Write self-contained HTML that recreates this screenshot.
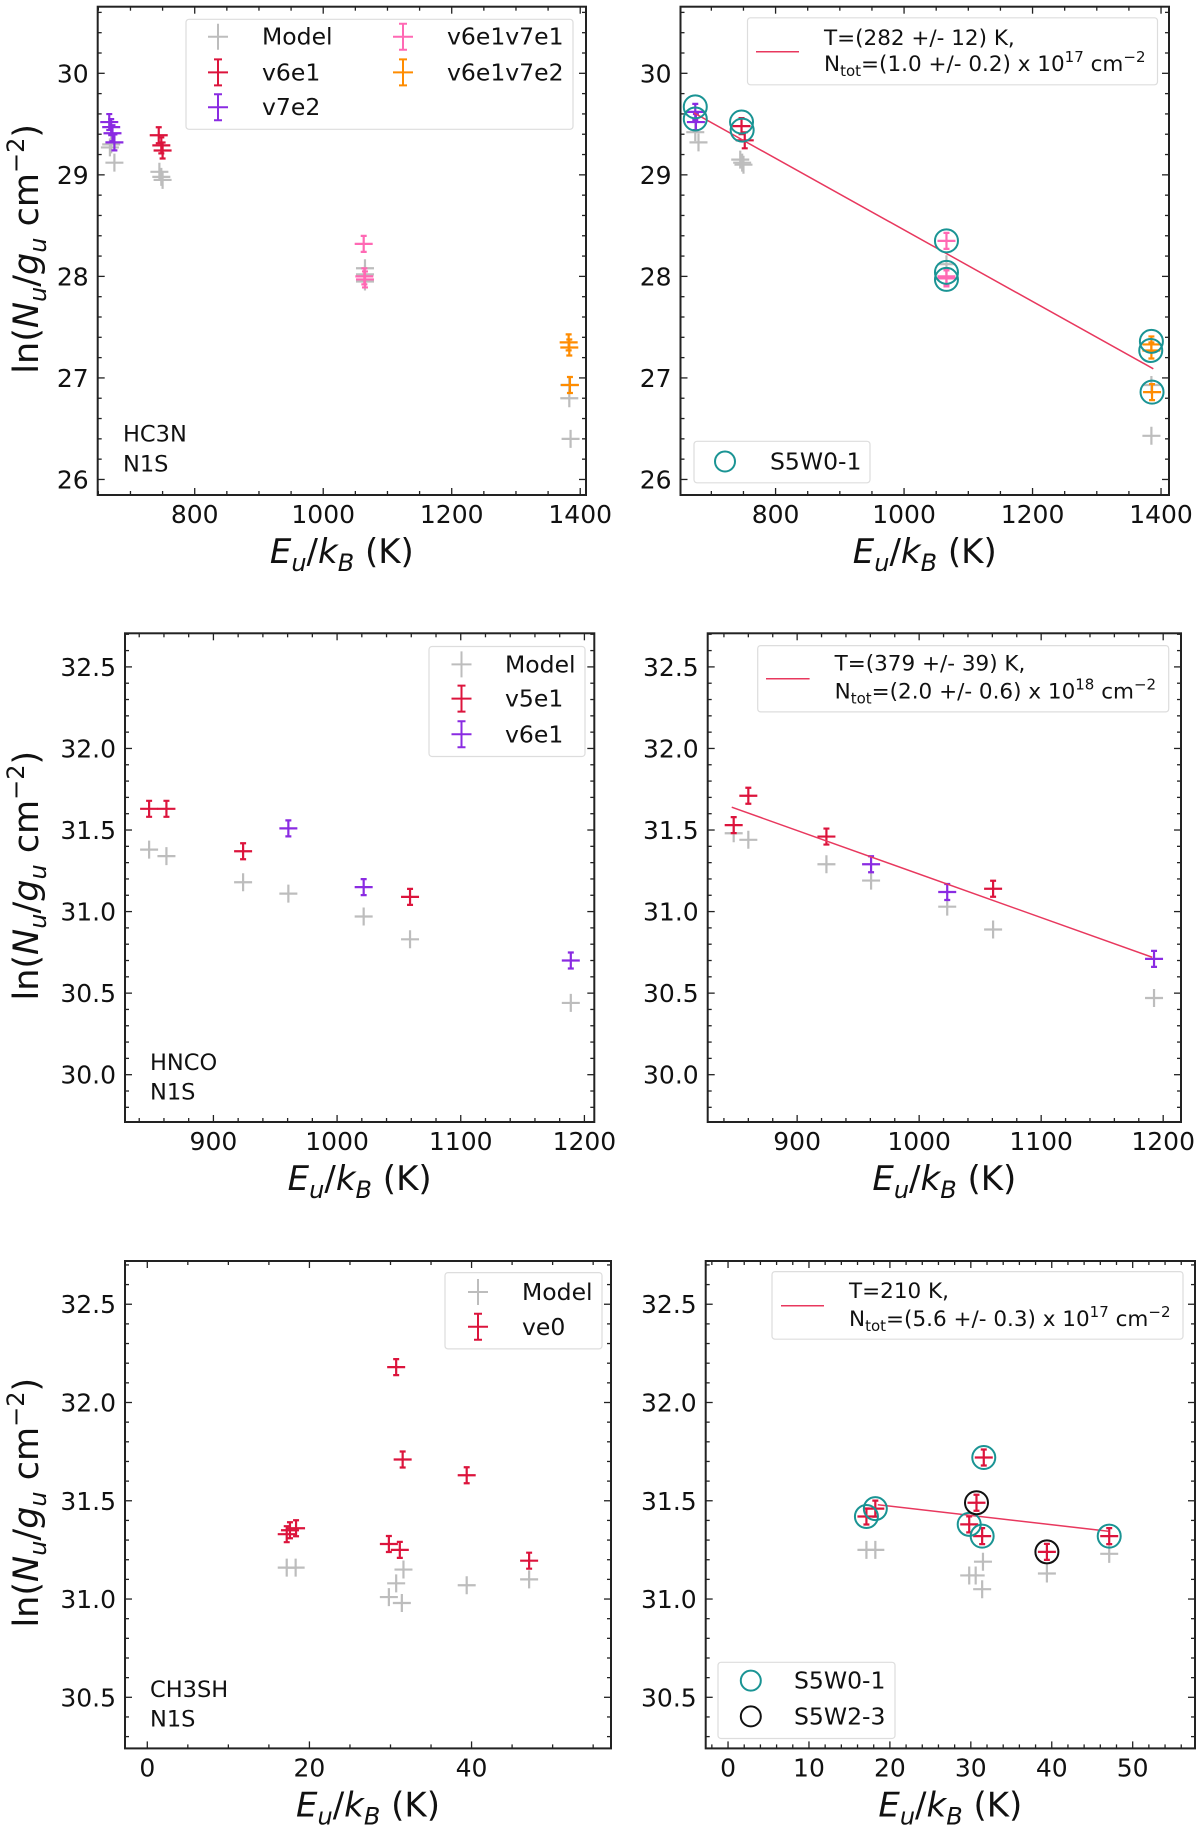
<!DOCTYPE html>
<html><head><meta charset="utf-8"><style>
html,body{margin:0;padding:0;background:#fff;}
svg{display:block;font-family:"DejaVu Sans","Liberation Sans",sans-serif;}
</style></head><body>
<svg id="fig" xmlns="http://www.w3.org/2000/svg" width="1200" height="1829" viewBox="0 0 1200 1829"></svg>
<script>
// ---------- Panel 1: HC3N ----------
const hc3nModelE=[668,670,675,745,748,750,1065,1065,1065,1383,1383,1385];
const hc3nModelY=[29.27,29.3,29.12,29.03,28.98,28.95,28.08,28.02,27.95,26.93,26.8,26.4];
const hc3nV6e1E=[744,748,750];
const hc3nV6e1Y=[29.39,29.29,29.24];
const hc3nV7e2E=[667,670,672,675];
const hc3nV7e2Y=[29.52,29.47,29.41,29.32];
const hc3nV6e1v7e1E=[1063,1064,1065];
const hc3nV6e1v7e1Y=[28.32,28.0,27.97];
const hc3nV6e1v7e2E=[1382,1383,1384];
const hc3nV6e1v7e2Y=[27.35,27.3,26.93];
// ---------- Panel 2: HC3N fitted ----------
const hc3nFitModelE=[675,680,745,748,750,1066,1385,1385];
const hc3nFitModelY=[29.42,29.32,29.15,29.12,29.1,28.12,26.93,26.43];
const hc3nFitV7e2E=[675,676];
const hc3nFitV7e2Y=[29.62,29.52];
const hc3nFitV6e1E=[747,752];
const hc3nFitV6e1Y=[29.48,29.34];
const hc3nFitV6e1v7e1E=[1066,1066,1066];
const hc3nFitV6e1v7e1Y=[28.35,28.0,27.98];
const hc3nFitV6e1v7e2E=[1385,1385,1386];
const hc3nFitV6e1v7e2Y=[27.33,27.27,26.86];
const hc3nCircE=[675,675,747,748,1066,1066,1066,1385,1384,1386];
const hc3nCircY=[29.67,29.55,29.52,29.44,28.35,28.04,27.97,27.36,27.27,26.86];
const hc3nFitLineE=[673,1388];
const hc3nFitLineY=[29.61,27.09];
// ---------- Panel 3: HNCO ----------
const hncoModelE=[848,862,924,960.6,1021.5,1059,1189];
const hncoModelY=[31.38,31.34,31.18,31.11,30.97,30.83,30.44];
const hncoV5e1E=[848,862,924,1059];
const hncoV5e1Y=[31.63,31.63,31.37,31.09];
const hncoV6e1E=[960.6,1021.5,1189];
const hncoV6e1Y=[31.51,31.15,30.70];
// ---------- Panel 4: HNCO fitted ----------
const hncoFitModelE=[848,860,924,960.6,1023,1060.6,1192.5];
const hncoFitModelY=[31.48,31.44,31.29,31.19,31.03,30.89,30.47];
const hncoFitV5e1E=[848,860,924,1060.6];
const hncoFitV5e1Y=[31.53,31.71,31.46,31.14];
const hncoFitV6e1E=[960.6,1023,1192.5];
const hncoFitV6e1Y=[31.29,31.12,30.71];
const hncoFitLineE=[846.4,1191];
const hncoFitLineY=[31.64,30.72];
// ---------- Panel 5: CH3SH ----------
const ch3shModelE=[17.2,18.3,29.8,30.7,31.4,31.6,39.4,47.1];
const ch3shModelY=[31.16,31.16,31.01,31.08,30.98,31.15,31.07,31.1];
const ch3shVe0E=[17.2,17.6,18.35,30.7,31.5,39.4,29.8,31.15,47.1];
const ch3shVe0Y=[31.33,31.35,31.36,32.18,31.71,31.63,31.28,31.25,31.195];
// ---------- Panel 6: CH3SH fitted ----------
const ch3shFitModelE=[17.1,18.2,29.8,30.6,31.5,31.4,39.4,47.1];
const ch3shFitModelY=[31.25,31.25,31.12,31.12,31.19,31.05,31.13,31.23];
const ch3shFitVe0E=[17.1,18.2,29.8,30.7,31.4,31.6,39.4,47.1];
const ch3shFitVe0Y=[31.42,31.46,31.38,31.49,31.32,31.72,31.24,31.32];
const ch3shTealE=[17.1,18.2,29.8,31.4,31.6,47.1];
const ch3shTealY=[31.42,31.46,31.38,31.32,31.72,31.32];
const ch3shBlackE=[30.7,39.4];
const ch3shBlackY=[31.49,31.24];
const ch3shFitLineE=[18.5,47];
const ch3shFitLineY=[31.48,31.345];

const C={grey:'#bdbdbd',red:'#dc143c',purple:'#8a2be2',pink:'#ff69b4',orange:'#ff8c00',teal:'#1a9494',fit:'#e8385e'};
const NS='http://www.w3.org/2000/svg';
const svg=document.getElementById('fig');
function mk(tag,attrs,parent){const e=document.createElementNS(NS,tag);for(const k in attrs)e.setAttribute(k,attrs[k]);(parent||svg).appendChild(e);return e;}

function makeAxes(o){
  const g=mk('g',{});
  
  
  const sx=v=>o.x0+(v-o.xlim[0])/(o.xlim[1]-o.xlim[0])*(o.x1-o.x0);
  const sy=v=>o.y1-(v-o.ylim[0])/(o.ylim[1]-o.ylim[0])*(o.y1-o.y0);
  const tk=mk('g',{stroke:'#222','stroke-width':1.3},g);
  
  
  const eps=1e-6;
  for(let v=Math.ceil(o.xlim[0]/o.xminor)*o.xminor;v<=o.xlim[1]+eps;v+=o.xminor){
    const isMaj=Math.abs(v/o.xmajor-Math.round(v/o.xmajor))<1e-6;const L=isMaj?7:4;const x=sx(v);
    mk('line',{x1:x,x2:x,y1:o.y1,y2:o.y1-L},tk);mk('line',{x1:x,x2:x,y1:o.y0,y2:o.y0+L},tk);
    if(isMaj){const t=mk('text',{x:x,y:o.y1+28,'text-anchor':'middle','font-size':25,fill:'#111',stroke:'none'},g);t.textContent=String(Math.round(v));
      
      }
  }
  for(let v=Math.ceil(o.ylim[0]/o.yminor-eps)*o.yminor;v<=o.ylim[1]+eps;v+=o.yminor){
    const isMaj=Math.abs(v/o.ymajor-Math.round(v/o.ymajor))<1e-6;const L=isMaj?7:4;const y=sy(v);
    mk('line',{x1:o.x0,x2:o.x0+L,y1:y,y2:y},tk);mk('line',{x1:o.x1,x2:o.x1-L,y1:y,y2:y},tk);
    if(isMaj){const t=mk('text',{x:o.x0-9,y:y+9,'text-anchor':'end','font-size':25,fill:'#111',stroke:'none'},g);t.textContent=v.toFixed(o.ydec);
      
      }
  }
  const fr=mk('rect',{x:o.x0,y:o.y0,width:o.x1-o.x0,height:o.y1-o.y0,fill:'none',stroke:'#222','stroke-width':2},g);
  
  
  const xl=mk('text',{x:(o.x0+o.x1)/2,y:o.y1+68,'text-anchor':'middle','font-size':34,fill:'#111'},g);
  
  
  xl.innerHTML='<tspan font-style="italic">E</tspan><tspan font-style="italic" font-size="24" dy="8">u</tspan><tspan dy="-8">/</tspan><tspan font-style="italic">k</tspan><tspan font-style="italic" font-size="24" dy="8">B</tspan><tspan dy="-8"> (K)</tspan>';
  if(o.ylabel){
    const cy=(o.y0+o.y1)/2-2;
    const yl=mk('text',{x:0,y:0,'text-anchor':'middle','font-size':35,fill:'#111',transform:`translate(38,${cy}) rotate(-90)`},g);
    
    
    yl.innerHTML='ln(<tspan font-style="italic">N</tspan><tspan font-style="italic" font-size="24" dy="8">u</tspan><tspan dy="-8">/</tspan><tspan font-style="italic">g</tspan><tspan font-style="italic" font-size="24" dy="8">u</tspan><tspan dy="-8"> cm</tspan><tspan font-size="24" dy="-14">−2</tspan><tspan dy="14">)</tspan>';
  }
  return {g,sx,sy,o};
}
function plus(ax,E,Y,color,name,err){
  const g=mk('g',{stroke:color,'stroke-width':2.2,fill:'none'},ax.g);
  
  
  for(let i=0;i<E.length;i++){
    const x=ax.sx(E[i]),y=ax.sy(Y[i]);
    const h=err?8:9;
    const p=mk('path',{d:`M${x-9},${y}H${x+9}M${x},${y-h}V${y+h}`+(err?`M${x-3},${y-h}H${x+3}M${x-3},${y+h}H${x+3}`:'')},g);
    
    
  }
}
function circles(ax,E,Y,color,name){
  const g=mk('g',{stroke:color,'stroke-width':2,fill:'none'},ax.g);
  
  
  for(let i=0;i<E.length;i++){
    const c=mk('circle',{cx:ax.sx(E[i]),cy:ax.sy(Y[i]),r:11.5},g);
    
    
  }
}
function fitLine(ax,E,Y){
  const l=mk('line',{x1:ax.sx(E[0]),y1:ax.sy(Y[0]),x2:ax.sx(E[1]),y2:ax.sy(Y[1]),stroke:C.fit,'stroke-width':1.5},ax.g);
  
  
}
function legendBox(ax,x,y,w,h,name){
  const r=mk('rect',{x,y,width:w,height:h,rx:3,fill:'#fff','fill-opacity':0.85,stroke:'#ddd','stroke-width':1.2},ax.g);
  
  
}
function legEntry(ax,hx,tx,y,color,label,kind){
  const g=mk('g',{},ax.g);
  
  
  if(kind==='circle'){mk('circle',{cx:hx,cy:y,r:10,fill:'none',stroke:color,'stroke-width':2},g);}
  else{mk('path',{d:`M${hx-10},${y}H${hx+10}M${hx},${y-13}V${y+13}`+(kind==='err'?`M${hx-4},${y-13}H${hx+4}M${hx-4},${y+13}H${hx+4}`:''),stroke:color,'stroke-width':2,fill:'none'},g);}
  const t=mk('text',{x:tx,y:y+8,'font-size':23.5,fill:'#111'},g);t.textContent=label;
}
function fitLegend(ax,bx,by,bw,bh,hx1,hx2,hy,tx,l1y,l2y,tLine,nPre,nExp){
  legendBox(ax,bx,by,bw,bh,'fit-legend');
  const g=mk('g',{},ax.g);
  
  
  mk('line',{x1:hx1,x2:hx2,y1:hy,y2:hy,stroke:C.fit,'stroke-width':1.5},g);
  const t1=mk('text',{x:tx,y:l1y+8,'font-size':21.5,fill:'#111'},g);t1.textContent=tLine;
  const t2=mk('text',{x:tx,y:l2y+8,'font-size':21.5,fill:'#111'},g);
  t2.innerHTML=`N<tspan font-size="15" dy="5">tot</tspan><tspan dy="-5">=${nPre} x 10</tspan><tspan font-size="15" dy="-9">${nExp}</tspan><tspan dy="9"> cm</tspan><tspan font-size="15" dy="-9">−2</tspan>`;
}
function note(ax,x,y1,y2,a,b){
  const g=mk('g',{'font-size':22.5,fill:'#111'},ax.g);
  
  
  const t1=mk('text',{x,y:y1+8},g);t1.textContent=a;
  const t2=mk('text',{x,y:y2+8},g);t2.textContent=b;
}

// Panel 1
const a1=makeAxes({name:'hc3n-panel',x0:97.7,x1:586,y0:6.7,y1:495,xlim:[649,1409],ylim:[25.847,30.656],xmajor:200,xminor:50,ymajor:1,yminor:0.2,ydec:0,ylabel:true});
plus(a1,hc3nModelE,hc3nModelY,C.grey,'model-series',false);
plus(a1,hc3nV7e2E,hc3nV7e2Y,C.purple,'v7e2-series',true);
plus(a1,hc3nV6e1E,hc3nV6e1Y,C.red,'v6e1-series',true);
plus(a1,hc3nV6e1v7e1E,hc3nV6e1v7e1Y,C.pink,'v6e1v7e1-series',true);
plus(a1,hc3nV6e1v7e2E,hc3nV6e1v7e2Y,C.orange,'v6e1v7e2-series',true);
legendBox(a1,186,19.3,387,110,'legend');
legEntry(a1,218,262,36.7,C.grey,'Model','plus');
legEntry(a1,218,262,72.4,C.red,'v6e1','err');
legEntry(a1,218,262,107.2,C.purple,'v7e2','err');
legEntry(a1,403,447,36.7,C.pink,'v6e1v7e1','err');
legEntry(a1,403,447,72.4,C.orange,'v6e1v7e2','err');
note(a1,123,433.6,463.5,'HC3N','N1S');

// Panel 2
const a2=makeAxes({name:'hc3n-fit-panel',x0:680.5,x1:1169,y0:6.7,y1:495,xlim:[652,1412.4],ylim:[25.847,30.656],xmajor:200,xminor:50,ymajor:1,yminor:0.2,ydec:0,ylabel:false});
plus(a2,hc3nFitModelE,hc3nFitModelY,C.grey,'model-series',false);
plus(a2,hc3nFitV7e2E,hc3nFitV7e2Y,C.purple,'v7e2-series',true);
plus(a2,hc3nFitV6e1E,hc3nFitV6e1Y,C.red,'v6e1-series',true);
plus(a2,hc3nFitV6e1v7e1E,hc3nFitV6e1v7e1Y,C.pink,'v6e1v7e1-series',true);
plus(a2,hc3nFitV6e1v7e2E,hc3nFitV6e1v7e2Y,C.orange,'v6e1v7e2-series',true);
fitLine(a2,hc3nFitLineE,hc3nFitLineY);
circles(a2,hc3nCircE,hc3nCircY,C.teal,'s5w0-1-markers');
fitLegend(a2,747.5,17.8,410,67,756,799,51.8,824,37,62.8,'T=(282 +/- 12) K,','(1.0 +/- 0.2)','17');
legendBox(a2,694,441.3,176,41.5,'window-legend');
legEntry(a2,725,770,461.5,C.teal,'S5W0-1','circle');

// Panel 3
const a3=makeAxes({name:'hnco-panel',x0:125,x1:594.3,y0:633.3,y1:1122,xlim:[828.5,1208],ylim:[29.71,32.706],xmajor:100,xminor:20,ymajor:0.5,yminor:0.1,ydec:1,ylabel:true});
plus(a3,hncoModelE,hncoModelY,C.grey,'model-series',false);
plus(a3,hncoV5e1E,hncoV5e1Y,C.red,'v5e1-series',true);
plus(a3,hncoV6e1E,hncoV6e1Y,C.purple,'v6e1-series',true);
legendBox(a3,429,646.5,156,110,'legend');
legEntry(a3,461.5,505,664.4,C.grey,'Model','plus');
legEntry(a3,461.5,505,698.6,C.red,'v5e1','err');
legEntry(a3,461.5,505,734.3,C.purple,'v6e1','err');
note(a3,150,1061.9,1091.6,'HNCO','N1S');

// Panel 4
const a4=makeAxes({name:'hnco-fit-panel',x0:707.7,x1:1181,y0:633.3,y1:1122,xlim:[826.7,1214.6],ylim:[29.71,32.706],xmajor:100,xminor:20,ymajor:0.5,yminor:0.1,ydec:1,ylabel:false});
plus(a4,hncoFitModelE,hncoFitModelY,C.grey,'model-series',false);
plus(a4,hncoFitV5e1E,hncoFitV5e1Y,C.red,'v5e1-series',true);
plus(a4,hncoFitV6e1E,hncoFitV6e1Y,C.purple,'v6e1-series',true);
fitLine(a4,hncoFitLineE,hncoFitLineY);
fitLegend(a4,757.7,645.6,411,66.3,766,809.6,678.7,834.6,662.6,690.6,'T=(379 +/- 39) K,','(2.0 +/- 0.6)','18');

// Panel 5
const a5=makeAxes({name:'ch3sh-panel',x0:125,x1:611,y0:1261,y1:1748.4,xlim:[-2.75,57.2],ylim:[30.24,32.72],xmajor:20,xminor:5,ymajor:0.5,yminor:0.1,ydec:1,ylabel:true});
plus(a5,ch3shModelE,ch3shModelY,C.grey,'model-series',false);
plus(a5,ch3shVe0E,ch3shVe0Y,C.red,'ve0-series',true);
legendBox(a5,445,1272.6,157,76.3,'legend');
legEntry(a5,478,522,1292,C.grey,'Model','plus');
legEntry(a5,478,522,1326.8,C.red,'ve0','err');
note(a5,150,1689.1,1718.7,'CH3SH','N1S');

// Panel 6
const a6=makeAxes({name:'ch3sh-fit-panel',x0:705.7,x1:1195,y0:1261,y1:1748.4,xlim:[-2.76,57.7],ylim:[30.24,32.72],xmajor:10,xminor:2,ymajor:0.5,yminor:0.1,ydec:1,ylabel:false});
plus(a6,ch3shFitModelE,ch3shFitModelY,C.grey,'model-series',false);
plus(a6,ch3shFitVe0E,ch3shFitVe0Y,C.red,'ve0-series',true);
fitLine(a6,ch3shFitLineE,ch3shFitLineY);
circles(a6,ch3shTealE,ch3shTealY,C.teal,'s5w0-1-markers');
circles(a6,ch3shBlackE,ch3shBlackY,'#111','s5w2-3-markers');
fitLegend(a6,772,1271.6,411,67.6,781,824,1305.7,849,1290.1,1318.1,'T=210 K,','(5.6 +/- 0.3)','17');
legendBox(a6,718,1662.3,177,76.2,'window-legend');
legEntry(a6,750.8,794,1680.6,C.teal,'S5W0-1','circle');
legEntry(a6,750.8,794,1716.4,'#111','S5W2-3','circle');
</script>
</body></html>
